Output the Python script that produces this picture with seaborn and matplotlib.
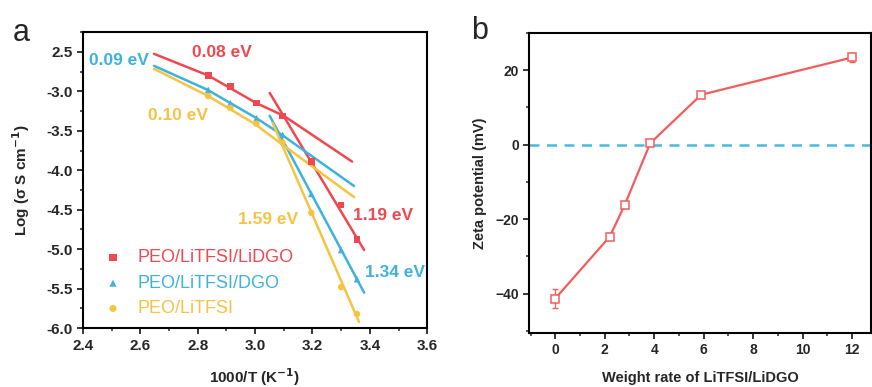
import matplotlib
matplotlib.use('Agg')
import matplotlib.pyplot as plt
import seaborn as sns
import pandas as pd
import numpy as np
from matplotlib.ticker import AutoMinorLocator, MultipleLocator

sns.set_style("ticks")
plt.rcParams['font.family'] = ['Liberation Sans', 'DejaVu Sans']

red = "#ee4850"
blue = "#3db2dc"
yellow = "#f6c342"
zred = "#f45c5c"
zblue = "#4ab8e0"

# panel a: measured points
inv_T = [2.837, 2.914, 3.005, 3.096, 3.196, 3.300, 3.355]
log_lidgo = [-2.80, -2.94, -3.15, -3.31, -3.89, -4.44, -4.88]
log_dgo = [-2.98, -3.15, -3.34, -3.55, -4.30, -5.01, -5.38]
log_peo = [-3.06, -3.21, -3.41, -3.65, -4.54, -5.48, -5.82]

# panel a: fitted curves (low-T VTF curves, high-T straight lines)
fit_lidgo_lo_x = [2.648, 2.837, 3.005, 3.100, 3.338]
fit_lidgo_lo_y = [-2.525, -2.80, -3.15, -3.31, -3.89]
fit_dgo_lo_x = [2.648, 2.834, 3.005, 3.093, 3.345]
fit_dgo_lo_y = [-2.677, -2.98, -3.34, -3.55, -4.20]
fit_peo_lo_x = [2.648, 2.837, 2.998, 3.086, 3.345]
fit_peo_lo_y = [-2.715, -3.06, -3.41, -3.65, -4.34]
fit_lidgo_hi_x = [3.051, 3.380]
fit_lidgo_hi_y = [-3.02, -5.01]
fit_dgo_hi_x = [3.051, 3.380]
fit_dgo_hi_y = [-3.31, -5.55]
fit_peo_hi_x = [3.061, 3.362]
fit_peo_hi_y = [-3.40, -5.92]

series_names = ["PEO/LiTFSI/LiDGO", "PEO/LiTFSI/DGO", "PEO/LiTFSI"]

# panel b: zeta potential
weight_rate = [0, 2.2, 2.8, 3.84, 5.9, 12.0]
zeta = [-41.3, -24.7, -16.3, 0.4, 13.4, 23.4]
zeta_err = [2.6, 1.0, 0.8, 0.6, 0.5, 1.2]

fig = plt.figure(figsize=(8.72, 3.87), dpi=100)
ax1 = fig.add_axes([0.095, 0.152, 0.395, 0.765])
ax2 = fig.add_axes([0.607, 0.140, 0.392, 0.775])

# ---- panel a ----
fit_sets = [(fit_lidgo_lo_x, fit_lidgo_lo_y, red), (fit_lidgo_hi_x, fit_lidgo_hi_y, red),
            (fit_dgo_lo_x, fit_dgo_lo_y, blue), (fit_dgo_hi_x, fit_dgo_hi_y, blue),
            (fit_peo_lo_x, fit_peo_lo_y, yellow), (fit_peo_hi_x, fit_peo_hi_y, yellow)]
for xs, ys, c in fit_sets:
    sns.lineplot(x=xs, y=ys, ax=ax1, color=c, linewidth=1.8, zorder=2, sort=False)

df = pd.DataFrame({"x": inv_T * 3,
                   "y": log_lidgo + log_dgo + log_peo,
                   "s": [series_names[0]] * 7 + [series_names[1]] * 7 + [series_names[2]] * 7})
sns.scatterplot(data=df, x="x", y="y", hue="s", style="s", ax=ax1,
                palette=[red, blue, yellow], markers=["s", "^", "o"],
                s=22, edgecolor="none", zorder=3, legend=False)

ax1.xaxis.set_major_locator(MultipleLocator(0.2))
ax1.yaxis.set_major_locator(MultipleLocator(0.5))
ax1.xaxis.set_minor_locator(AutoMinorLocator(2))
ax1.yaxis.set_minor_locator(AutoMinorLocator(2))
ax1.set_xlim(2.4, 3.6)
ax1.set_ylim(-6.0, -2.25)
xt = np.arange(2.4, 3.61, 0.2)
ax1.set_xticks(xt)
ax1.set_xticklabels(["%.1f" % v for v in xt])
yt = np.arange(-6.0, -2.49, 0.5)
ax1.set_yticks(yt)
ax1.set_yticklabels(["2.5" if abs(v + 2.5) < 1e-6 else "%.1f" % v for v in yt])
ax1.set_xlim(2.4, 3.6)
ax1.set_ylim(-6.0, -2.25)
ax1.set_xlabel("1000/T (K$^{\\mathbf{-1}}$)", fontsize=11, fontweight="bold", labelpad=10)
ax1.set_ylabel("Log (σ S cm$^{\\mathbf{-1}}$)", fontsize=11, fontweight="bold", labelpad=10)

ann = [("0.08 eV", 2.886, -2.51, red), ("0.09 eV", 2.525, -2.61, blue),
       ("0.10 eV", 2.732, -3.30, yellow), ("1.59 eV", 3.047, -4.62, yellow),
       ("1.19 eV", 3.445, -4.57, red), ("1.34 eV", 3.487, -5.30, blue)]
for txt, x, y, c in ann:
    ax1.text(x, y, txt, color=c, fontsize=12.5, fontweight="bold", ha="center", va="center")

leg_y = [-5.11, -5.43, -5.75]
mk = ["s", "^", "o"]
for i, (name, c) in enumerate(zip(series_names, [red, blue, yellow])):
    ax1.scatter([2.505], [leg_y[i]], marker=mk[i], color=c, s=26, edgecolor="none")
    ax1.text(2.59, leg_y[i], name, color=c, fontsize=13, va="center", ha="left")

# ---- panel b ----
ax2.axhline(0, color=zblue, linestyle=(0, (4, 3)), linewidth=1.8, zorder=1)
sns.lineplot(x=weight_rate, y=zeta, ax=ax2, color=zred, linewidth=1.6,
             marker="s", markersize=6, markerfacecolor="white",
             markeredgecolor=zred, markeredgewidth=1.1, zorder=3)
ax2.errorbar(weight_rate, zeta, yerr=zeta_err, fmt="none", ecolor=zred,
             elinewidth=0.9, capsize=2.5, zorder=2)
ax2.set_xlim(-1.05, 12.77)
ax2.set_ylim(-50.5, 30)
ax2.xaxis.set_major_locator(MultipleLocator(2))
ax2.yaxis.set_major_locator(MultipleLocator(20))
ax2.xaxis.set_minor_locator(AutoMinorLocator(2))
ax2.yaxis.set_minor_locator(AutoMinorLocator(2))
ax2.set_xlabel("Weight rate of LiTFSI/LiDGO", fontsize=10.5, fontweight="bold", labelpad=10)
ax2.set_ylabel("Zeta potential (mV)", fontsize=10.5, fontweight="bold", labelpad=6)

for ax in (ax1, ax2):
    for sp in ax.spines.values():
        sp.set_linewidth(1.5)
        sp.set_color("black")
    ax.tick_params(which="major", direction="out", length=4, width=1.3, labelsize=11)
    ax.tick_params(which="minor", direction="out", length=2.5, width=1.1)
    for lab in ax.get_xticklabels() + ax.get_yticklabels():
        lab.set_fontweight("bold")
ax2.tick_params(labelsize=10)

fig.text(0.015, 0.915, "a", fontsize=22, va="center")
fig.text(0.540, 0.92, "b", fontsize=22, va="center")

fig.savefig("out.png", dpi=100)
